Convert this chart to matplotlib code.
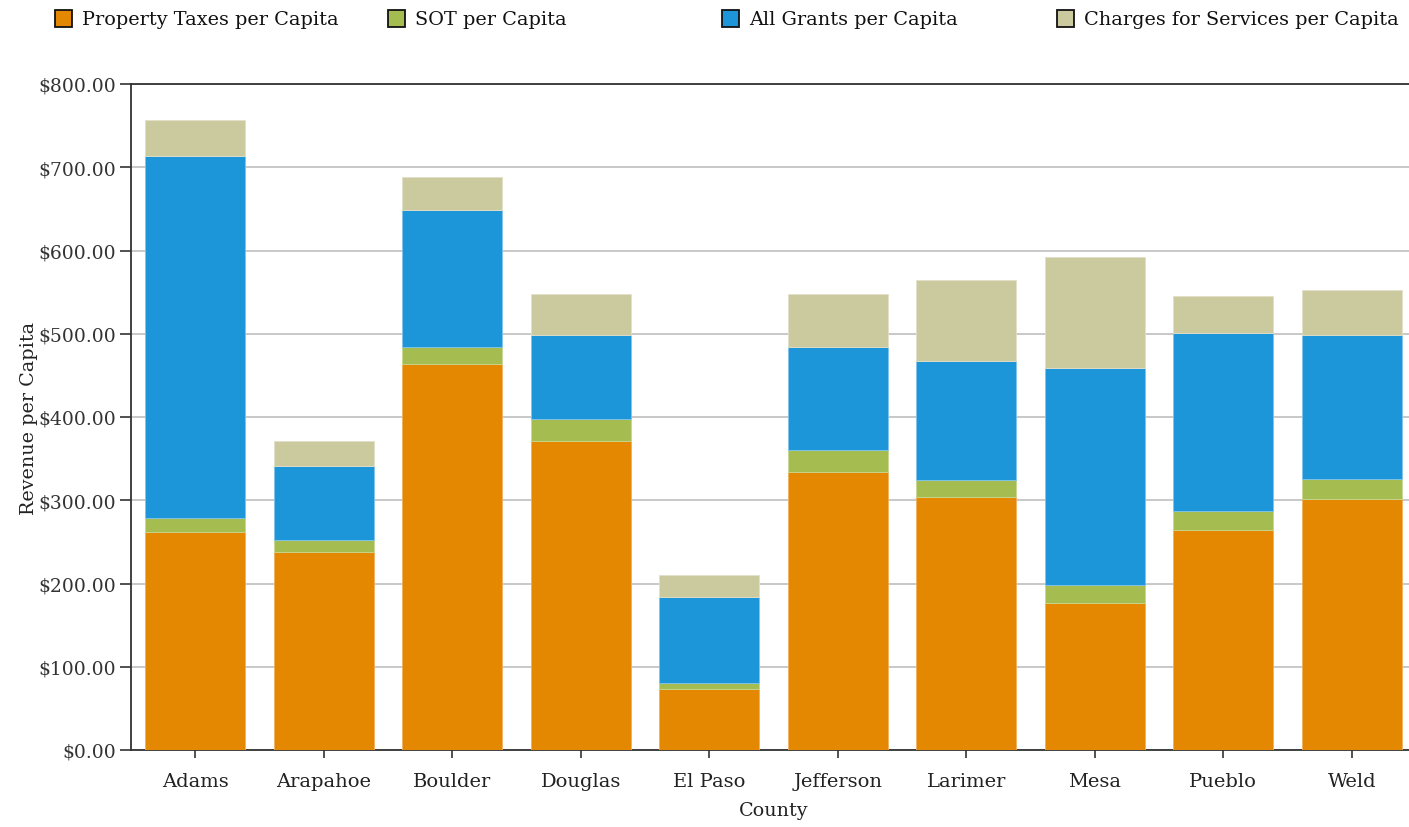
import matplotlib
matplotlib.use("Agg")
import matplotlib.pyplot as plt
from matplotlib.patches import Rectangle
from matplotlib.ticker import FuncFormatter, MultipleLocator
import numpy as np

counties = ["Adams", "Arapahoe", "Boulder", "Douglas", "El Paso",
            "Jefferson", "Larimer", "Mesa", "Pueblo", "Weld"]
property_taxes = [262, 238, 464, 371, 73, 334, 304, 177, 264, 301]
sot = [17, 14, 20, 27, 7, 26, 20, 21, 23, 25]
grants = [434, 89, 165, 101, 104, 124, 143, 261, 214, 172]
charges = [44, 30, 39, 49, 26, 64, 98, 133, 44, 55]

series_names = ["Property Taxes per Capita", "SOT per Capita",
                "All Grants per Capita", "Charges for Services per Capita"]
colors = ["#E38800", "#A5BD50", "#1C95D9", "#CBC99E"]
edges = ["#F0B060", "#C8D890", "#80C4EC", "#E2E0C8"]

W, H = 1409, 828
fig = plt.figure(figsize=(W / 100, H / 100), dpi=100)
plt.rcParams['font.family'] = ['DejaVu Serif']

ax_left, ax_right = 131, 1416
ax_top, ax_bottom = 85, 751
ax = fig.add_axes([ax_left / W, (H - ax_bottom) / H,
                   (ax_right - ax_left) / W, (ax_bottom - ax_top) / H])

x = np.arange(len(counties))
bottom = np.zeros(len(counties))
for vals, c, e in zip([property_taxes, sot, grants, charges], colors, edges):
    ax.bar(x, vals, width=0.78, bottom=bottom, color=c, edgecolor=e,
           linewidth=0.6, zorder=3)
    bottom += np.array(vals)

ax.set_xlim(-0.5, len(counties) - 0.5)
ax.set_ylim(0, 800)
ax.yaxis.set_major_locator(MultipleLocator(100))
ax.yaxis.set_major_formatter(FuncFormatter(lambda v, p: f"${v:.2f}"))
ax.grid(axis="y", color="#c8c8c8", linewidth=1.4, zorder=0)
ax.set_axisbelow(True)

for s in ["left", "top", "bottom"]:
    ax.spines[s].set_color("#333333")
    ax.spines[s].set_linewidth(1.3)
ax.spines["right"].set_visible(False)

ax.set_xticks(x)
ax.set_xticklabels(counties)
ax.tick_params(axis="x", length=6, width=1.2, color="#333333", labelsize=14,
               labelcolor="#222222", pad=10)
ax.tick_params(axis="y", length=8, width=1.2, color="#333333", labelsize=13.5,
               labelcolor="#333333", pad=3)

ax.set_xlabel("County", fontsize=13.8, color="#222222", labelpad=8)
ax.set_ylabel("Revenue per Capita", fontsize=13.8, color="#222222", labelpad=0)

# legend across the top
leg_x = [55, 388, 722, 1057]
for lx, name, c in zip(leg_x, series_names, colors):
    fig.patches.append(Rectangle((lx / W, (H - 28) / H), 17 / W, 17 / H,
                                 transform=fig.transFigure, facecolor=c,
                                 edgecolor="#111111", linewidth=1.3))
    fig.text((lx + 27) / W, (H - 20) / H, name, fontsize=13.9, color="#111111",
             va="center", ha="left")

fig.savefig("out.png", dpi=100)
